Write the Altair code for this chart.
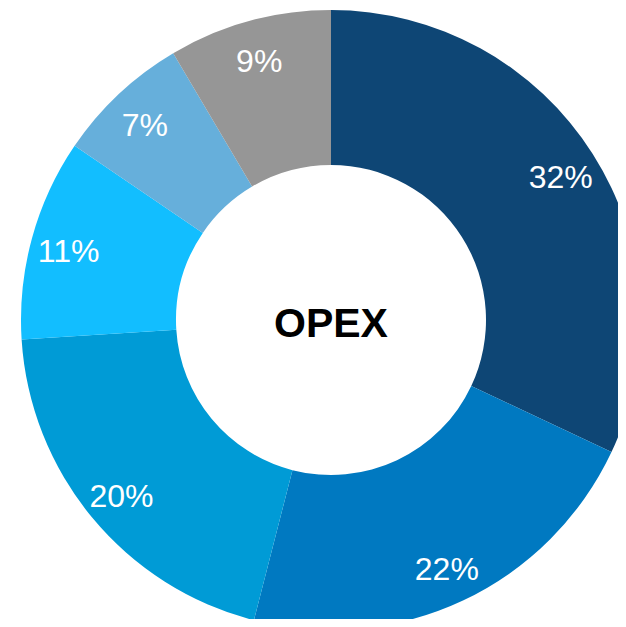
import altair as alt
import pandas as pd

categories = ["A", "B", "C", "D", "E", "F"]
shares = [32, 22, 20, 10.5, 7, 8.5]
labels = ["32%", "22%", "20%", "11%", "7%", "9%"]
colors = ["#0E4675", "#0079C1", "#009BD6", "#12BEFF", "#66AFDB", "#969696"]
center_title = "OPEX"

df = pd.DataFrame({
    "cat": categories,
    "share": shares,
    "label": labels,
    "order": list(range(len(categories))),
})

cx, cy = 323, 312

base = alt.Chart(df).encode(
    theta=alt.Theta("share:Q", stack=True),
    order=alt.Order("order:Q"),
)

arcs = base.mark_arc(outerRadius=310, innerRadius=155, stroke=None).encode(
    color=alt.Color("cat:N", scale=alt.Scale(domain=categories, range=colors), legend=None),
    x=alt.value(cx),
    y=alt.value(cy),
)

text = base.mark_text(
    radius=272, dy=4, font="Liberation Sans", fontSize=32, color="white",
    align="center", baseline="middle",
).encode(
    text="label:N",
    x=alt.value(cx),
    y=alt.value(cy),
)

title = alt.Chart(pd.DataFrame({"t": [center_title]})).mark_text(
    font="Liberation Sans", fontSize=41, fontWeight="bold", color="black",
    align="center", baseline="middle",
).encode(
    text="t:N",
    x=alt.value(cx),
    y=alt.value(cy + 5),
)

chart = (arcs + text + title).properties(
    width=610, height=611,
    autosize=alt.AutoSizeParams(type="none"),
    padding=0,
).configure_view(stroke=None)

chart.save("out.html", embed_options={"renderer": "svg", "actions": False})
